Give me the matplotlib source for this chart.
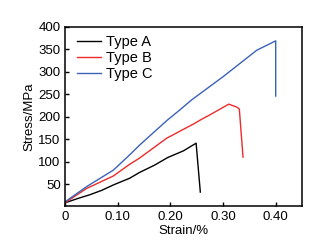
import matplotlib
matplotlib.use("Agg")
from matplotlib import pyplot as plt

# stress-strain curves
a_strain = [0, 0.025, 0.047, 0.07, 0.092, 0.123, 0.142, 0.17, 0.195, 0.225, 0.249, 0.257]
a_stress = [8, 18, 26, 36, 48, 63, 76, 92, 109, 124, 141, 32]

b_strain = [0, 0.041, 0.092, 0.123, 0.142, 0.193, 0.246, 0.259, 0.275, 0.311, 0.327, 0.331, 0.338]
b_stress = [8, 40, 68, 94, 108, 152, 185, 194, 204, 228, 221, 217, 110]

c_strain = [0, 0.041, 0.092, 0.123, 0.142, 0.195, 0.218, 0.24, 0.30, 0.364, 0.40, 0.40]
c_stress = [10, 44, 81, 115, 137, 193, 215, 237, 289, 348, 369, 246]

xticks = [0, 0.10, 0.20, 0.30, 0.40]
xtick_labels = ["0", "0.10", "0.20", "0.30", "0.40"]
yticks = [50, 100, 150, 200, 250, 300, 350, 400]

plt.rcParams['font.family'] = ['Liberation Sans', 'DejaVu Sans']

fig = plt.figure(figsize=(3.36, 2.47), dpi=100)
ax = fig.add_axes([0.193, 0.164, 0.706, 0.727])

ax.plot(a_strain, a_stress, color='black', lw=1.0, label='Type A')
ax.plot(b_strain, b_stress, color='#ee2a2a', lw=1.0, label='Type B')
ax.plot(c_strain, c_stress, color='#3a62b8', lw=1.0, label='Type C')

ax.set_xlim(0, 0.45)
ax.set_ylim(0, 400)
ax.set_xticks(xticks)
ax.set_xticklabels(xtick_labels)
ax.set_yticks(yticks)
ax.tick_params(direction='in', length=3, width=1, labelsize=9.5, pad=3)
for s in ax.spines.values():
    s.set_linewidth(1.1)

ax.set_xlabel("Strain/%", fontsize=9.5, labelpad=2)
ax.set_ylabel("Stress/MPa", fontsize=9.5, labelpad=2)

ax.legend(loc='upper left', bbox_to_anchor=(0.01, 1.01), frameon=False,
          fontsize=10.5, handlelength=1.6, handletextpad=0.35,
          labelspacing=0.12, borderaxespad=0.3)

fig.savefig("out.png", dpi=100)
